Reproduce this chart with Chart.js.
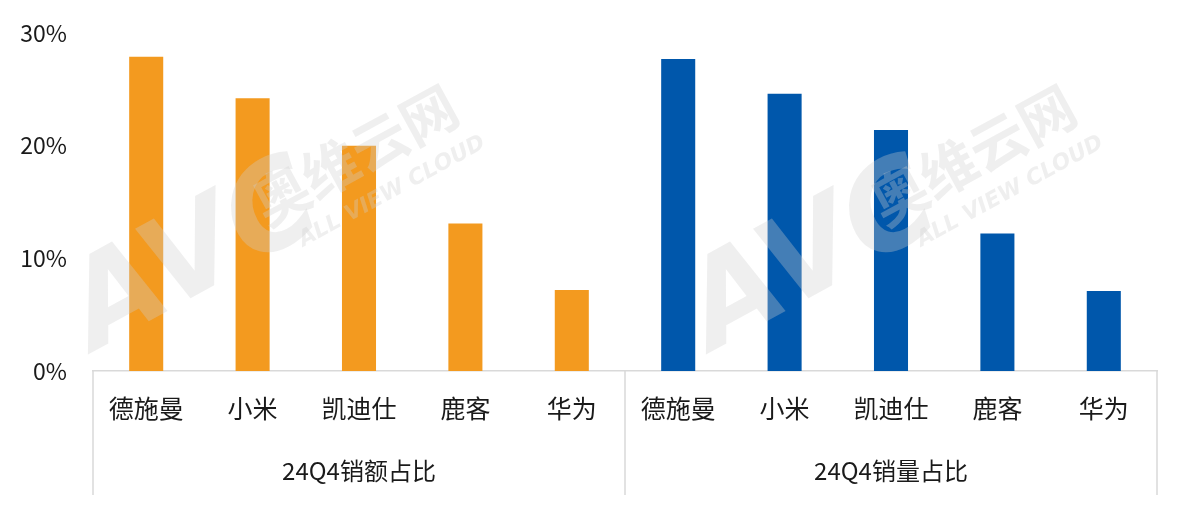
<!DOCTYPE html>
<html>
<head>
<meta charset="utf-8">
<script src="https://cdn.jsdelivr.net/npm/chart.js@4"></script>
<style>
  html, body { margin: 0; padding: 0; background: #ffffff; }
  #wrap { width: 1191px; height: 511px; position: relative; }
</style>
</head>
<body>
<div id="wrap"><canvas id="c" width="1191" height="511"></canvas></div>
<script>
const categories = ['德施曼', '小米', '凯迪仕', '鹿客', '华为'];
const groups = ['24Q4销额占比', '24Q4销量占比'];
const salesValueShare = [27.9, 24.2, 20.0, 13.1, 7.2];
const salesVolumeShare = [27.7, 24.6, 21.4, 12.2, 7.1];
const yTicks = [0, 10, 20, 30];
const orange = '#f39a1f';
const blue = '#0057ab';
const FONT = '"Noto Sans CJK SC", "Noto Sans", sans-serif';

const labels = categories.concat(categories);
const empty = [null, null, null, null, null];

const groupPlugin = {
  id: 'groupPlugin',
  afterDraw(chart) {
    const ctx = chart.ctx;
    const x = chart.scales.x;
    const area = chart.chartArea;
    const n = labels.length;
    const step = (x.getPixelForValue(1) - x.getPixelForValue(0));
    const bounds = [x.getPixelForValue(0) - step / 2, x.getPixelForValue(categories.length - 1) + step / 2, x.getPixelForValue(n - 1) + step / 2];
    ctx.save();
    ctx.strokeStyle = '#d9d9d9';
    ctx.lineWidth = 1.5;
    bounds.forEach(b => {
      ctx.beginPath();
      ctx.moveTo(b, area.bottom);
      ctx.lineTo(b, 495);
      ctx.stroke();
    });
    ctx.fillStyle = '#1a1a1a';
    ctx.font = '24px ' + FONT;
    ctx.textAlign = 'center';
    ctx.textBaseline = 'middle';
    groups.forEach((g, i) => {
      ctx.fillText(g, (bounds[i] + bounds[i + 1]) / 2, 471);
    });
    ctx.restore();
  },
  afterDatasetsDraw(chart) {
    const ctx = chart.ctx;
    ctx.save();
    ctx.fillStyle = 'rgba(205,205,205,0.33)';
    [0, 618].forEach(dx => {
      ctx.save();
      ctx.translate(150 + dx, 285);
      ctx.rotate(-0.5);
      ctx.font = 'italic bold 120px "DejaVu Sans", sans-serif';
      ctx.textBaseline = 'middle';
      ctx.fillText('AVC', -80, 0);
      ctx.restore();
      ctx.save();
      ctx.translate(355, 155);
      ctx.translate(dx, 0);
      ctx.rotate(-0.5);
      ctx.font = 'bold 56px ' + FONT;
      ctx.textAlign = 'center';
      ctx.textBaseline = 'middle';
      ctx.fillText('奥维云网', 0, 0);
      ctx.font = 'italic bold 22px "DejaVu Sans", sans-serif';
      ctx.fillText('ALL VIEW CLOUD', 15, 50);
      ctx.restore();
    });
    ctx.restore();
  }
};

new Chart(document.getElementById('c'), {
  type: 'bar',
  data: {
    labels: labels,
    datasets: [
      { label: groups[0], data: salesValueShare.concat(empty), backgroundColor: orange },
      { label: groups[1], data: empty.concat(salesVolumeShare), backgroundColor: blue }
    ]
  },
  options: {
    responsive: false,
    animation: false,
    devicePixelRatio: 1,
    layout: { padding: { top: 33, right: 34, left: 0, bottom: 0 } },
    datasets: { bar: { grouped: false, categoryPercentage: 1, barPercentage: 0.32 } },
    plugins: { legend: { display: false }, tooltip: { enabled: false } },
    scales: {
      x: {
        grid: { display: false, drawTicks: false },
        border: { display: true, color: '#d9d9d9', width: 1.5 },
        ticks: { color: '#1a1a1a', font: { family: FONT, size: 25 }, padding: 22, maxRotation: 0, autoSkip: false },
        afterFit(s) { s.height = 140; }
      },
      y: {
        min: 0, max: 30,
        afterBuildTicks(s) { s.ticks = yTicks.map(v => ({ value: v })); },
        grid: { display: false, drawTicks: false },
        border: { display: false },
        ticks: { color: '#1a1a1a', font: { family: FONT, size: 23 }, padding: 26, callback: v => v + '%' },
        afterFit(s) { s.width = 93; s.paddingTop = 0; s.paddingBottom = 0; }
      }
    }
  },
  plugins: [groupPlugin]
});
</script>
</body>
</html>
